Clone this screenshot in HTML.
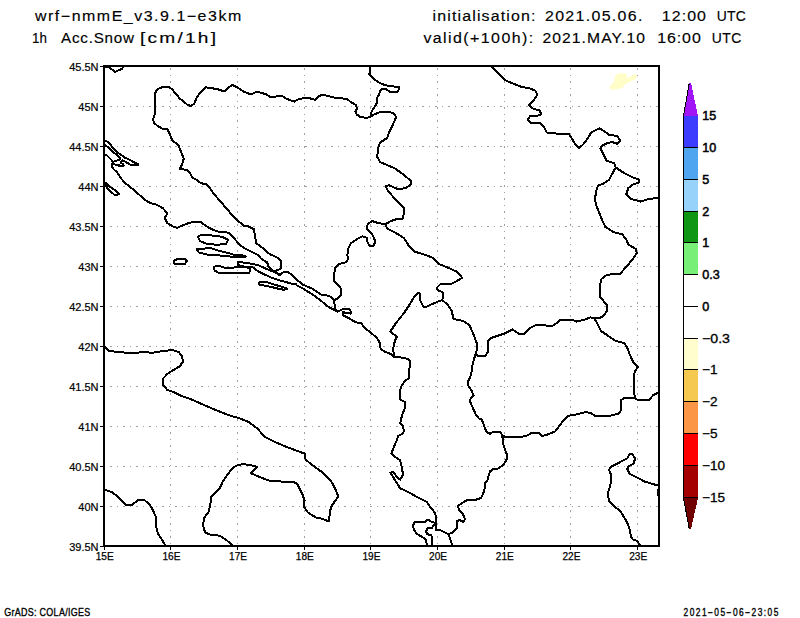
<!DOCTYPE html>
<html><head><meta charset="utf-8"><style>
html,body{margin:0;padding:0;background:#fff;width:800px;height:618px;overflow:hidden}
svg{display:block}
text{font-family:"Liberation Sans",sans-serif;fill:#000}
</style></head><body>
<svg width="800" height="618" viewBox="0 0 800 618">
<rect x="0" y="0" width="800" height="618" fill="#fff"/>

<polygon points="609.0,87.5 611.3,84.5 614.3,81.5 614.3,77.4 616.5,74.4 619.5,73.3 625.9,73.3 627.0,75.1 627.0,77.8 630.0,77.4 632.3,75.1 635.3,74.0 636.8,75.9 636.8,78.1 633.0,80.4 628.5,82.6 624.8,84.5 622.5,87.9 615.8,89.4 611.3,89.4" fill="#fffdc8"/>
<path d="M105,506.5H658 M105,466.5H658 M105,426.5H658 M105,386.5H658 M105,346.5H658 M105,306.5H658 M105,266.5H658 M105,226.5H658 M105,186.5H658 M105,146.5H658 M105,106.5H658" stroke="#a0a0a0" stroke-width="1" stroke-dasharray="1.6 4.9" stroke-dashoffset="-5.2" fill="none" shape-rendering="crispEdges"/>
<path d="M170.5,67V545 M237.5,67V545 M304.5,67V545 M370.5,67V545 M437.5,67V545 M504.5,67V545 M570.5,67V545 M637.5,67V545" stroke="#a0a0a0" stroke-width="1" stroke-dasharray="1.6 4.9" stroke-dashoffset="-1" fill="none" shape-rendering="crispEdges"/>
<polyline points="105.0,66.5 109.0,67.5 112.0,69.5 115.0,72.0 118.0,70.5 122.0,69.0 123.5,66.5" fill="none" stroke="#000" stroke-width="2" stroke-linejoin="round" stroke-linecap="round" shape-rendering="crispEdges"/>
<polyline points="370.6,116.9 367.2,117.7 361.0,117.3 357.0,114.7 355.3,111.8 357.0,108.4 355.9,105.0 350.2,101.6 346.8,98.8 340.0,98.2 333.0,97.4 326.7,95.7 321.4,94.7 318.3,96.8 315.1,99.9 309.9,98.3 305.7,97.8 299.4,98.9 294.1,101.6 286.8,98.9 282.6,96.2 269.9,96.8 265.7,94.1 261.5,93.0 256.9,91.5 253.1,93.6 248.9,93.6 243.7,91.7 237.2,87.3 232.4,84.9 229.1,87.3 225.9,90.5 222.7,91.0 219.4,89.7 213.0,88.4 205.7,87.3 201.6,91.3 196.8,97.0 194.4,103.5 191.1,105.9 187.9,105.1 183.8,101.8 179.8,98.6 176.6,94.6 171.7,88.9 169.3,87.3 162.0,87.3 157.9,88.9 155.0,92.9 154.7,101.0 154.7,114.0 153.1,119.6 153.9,122.9 157.9,126.1 162.0,128.5 167.7,129.4 170.1,135.0 172.5,140.7 178.2,144.7 181.4,152.8 183.8,158.5 182.2,164.1 179.8,169.0 187.1,169.8 189.5,172.2 192.7,177.9 196.0,179.5 200.9,183.2 206.2,184.2 209.3,187.4 214.6,194.7 221.9,203.1 228.2,210.5 234.5,217.8 240.0,222.5 243.5,225.5 248.4,226.5 254.2,229.4 254.2,231.8 255.2,236.7 256.2,243.4 260.0,245.9 263.9,248.8 266.8,252.2 271.7,255.1 276.5,257.0 280.4,260.0 281.4,263.8 281.5,267.8 279.3,269.3 277.0,270.4 274.0,270.8 271.8,270.0" fill="none" stroke="#000" stroke-width="2" stroke-linejoin="round" stroke-linecap="round" shape-rendering="crispEdges"/>
<polyline points="271.8,270.0 269.5,267.8 268.0,265.5 267.3,262.5 261.3,258.8 258.1,255.1 254.2,253.2 249.4,250.7 244.5,248.3 240.6,245.4 237.7,242.5 231.9,235.7 228.2,232.6 219.8,232.1 215.6,230.9 209.3,227.9 204.1,224.6 200.9,222.0 194.6,221.6 188.3,223.1 182.0,225.8 176.7,227.9 172.5,226.2 167.3,223.1 164.7,217.8 167.3,213.6 163.1,208.4 156.8,204.8 150.5,203.1 145.2,200.0 136.8,192.6 129.4,186.3 125.2,183.3 121.2,178.5 116.5,171.7 114.1,169.7 112.6,167.9 111.5,166.0 111.9,164.1 113.7,163.7 115.2,164.5 118.6,164.5 119.4,166.4 123.5,166.4 123.5,164.5 122.7,163.7 121.2,163.0 121.6,161.1 122.4,160.4 125.0,161.5 126.9,162.6 129.5,164.1 131.0,165.2 136.2,165.2 138.5,164.9 138.5,164.5 137.0,163.4 134.7,162.6 132.5,161.5 130.2,160.0 128.0,158.9 125.0,157.7 121.6,155.1 119.0,153.6 116.0,151.0 113.0,148.4 111.5,145.8 108.7,142.6 105.8,140.7 104.0,140.0" fill="none" stroke="#000" stroke-width="2" stroke-linejoin="round" stroke-linecap="round" shape-rendering="crispEdges"/>
<polyline points="104.5,144.5 107.0,146.5 110.4,149.3 113.3,152.2 116.0,154.3 119.5,157.3 120.4,158.5 119.7,159.6 117.5,160.4 113.7,161.5 113.0,162.0 111.5,160.0 110.8,159.4 108.7,157.2 106.9,155.4 104.5,154.7" fill="none" stroke="#000" stroke-width="2" stroke-linejoin="round" stroke-linecap="round" shape-rendering="crispEdges"/>
<polyline points="104.2,182.1 107.4,188.4 114.7,195.1 118.9,194.3 116.8,191.6 109.5,186.3 106.3,183.2" fill="none" stroke="#000" stroke-width="2" stroke-linejoin="round" stroke-linecap="round" shape-rendering="crispEdges"/>
<polyline points="197.8,236.8 200.9,235.1 209.3,235.1 221.9,236.8 228.2,239.9 226.1,244.1 217.7,244.7 207.2,244.1 199.9,241.0 197.8,236.8" fill="none" stroke="#000" stroke-width="2" stroke-linejoin="round" stroke-linecap="round" shape-rendering="crispEdges"/>
<polyline points="196.7,249.4 203.0,249.0 209.3,247.7 217.7,250.4 230.3,253.6 235.0,255.2 245.5,255.6 245.5,257.0 235.0,257.5 230.3,256.5 217.7,255.3 207.2,254.6 198.8,252.5 196.7,249.4" fill="none" stroke="#000" stroke-width="2" stroke-linejoin="round" stroke-linecap="round" shape-rendering="crispEdges"/>
<polyline points="173.6,260.9 177.8,258.8 185.1,258.8 187.2,260.9 185.1,263.7 177.8,264.5 174.6,263.7 173.6,260.9" fill="none" stroke="#000" stroke-width="2" stroke-linejoin="round" stroke-linecap="round" shape-rendering="crispEdges"/>
<polyline points="213.5,266.6 219.8,266.2 226.1,268.3 235.0,267.4 244.8,267.0 248.5,267.8 250.0,266.8 249.6,271.5 249.3,272.6 235.0,272.6 226.1,273.5 217.7,272.5 214.6,270.4 213.5,266.6" fill="none" stroke="#000" stroke-width="2" stroke-linejoin="round" stroke-linecap="round" shape-rendering="crispEdges"/>
<polyline points="238.0,261.8 239.5,262.1 247.0,262.9 253.8,264.4 257.5,264.8 261.3,266.6 266.5,268.9 271.0,270.8 274.8,272.3 278.5,274.5 280.0,274.9" fill="none" stroke="#000" stroke-width="2" stroke-linejoin="round" stroke-linecap="round" shape-rendering="crispEdges"/>
<polyline points="238.0,262.5 237.6,264.8 239.5,265.5 244.0,266.6 250.0,266.6 252.3,267.0 256.0,270.0 261.3,273.0 266.5,275.3 271.0,277.5 275.5,279.0 280.0,280.5 286.0,282.0 290.5,283.5 295.9,283.9 297.0,285.6 303.8,289.0 312.9,294.7 321.9,301.5 328.7,307.1 335.5,310.5 337.8,311.7 340.5,310.3 343.5,308.6 349.2,308.6 351.0,312.0 350.6,313.6 346.5,312.8 342.5,312.2 343.5,315.5 349.4,318.5 355.2,322.0 361.1,323.4 365.9,328.8 370.8,332.7 376.6,337.6 379.5,342.4 380.5,348.3 384.4,351.7 390.2,353.7 394.1,357.0 397.0,357.0 401.8,357.6 407.7,358.9 409.6,360.9 409.6,367.7 408.6,373.5 408.6,378.3 404.8,381.3 401.8,385.1 399.9,391.0 400.1,399.5 403.0,401.0 405.0,401.9 405.0,407.8 402.0,415.5 400.1,423.3 403.0,426.2 404.0,431.1 402.0,434.0 398.2,435.9 396.2,441.7 393.3,448.5 391.4,453.4 394.3,456.3 400.1,460.2 402.0,468.0 403.0,474.8 400.1,479.6 397.2,477.7 393.3,471.8 390.4,472.8 392.3,475.7 397.2,483.5 400.1,488.3 404.0,490.0 410.0,493.0 418.0,497.5 427.0,502.0 430.0,507.0 434.0,511.5 435.5,515.0 435.5,523.0 436.0,530.0 440.0,530.0 444.0,532.0 448.0,534.0 450.0,538.0 452.0,545.0" fill="none" stroke="#000" stroke-width="2" stroke-linejoin="round" stroke-linecap="round" shape-rendering="crispEdges"/>
<polyline points="259.0,283.5 260.5,281.6 265.0,281.6 271.0,283.5 277.0,285.4 283.8,287.3 287.5,289.0 284.0,289.8 277.0,288.4 271.0,286.9 265.0,285.8 259.8,284.6 259.0,283.5" fill="none" stroke="#000" stroke-width="2" stroke-linejoin="round" stroke-linecap="round" shape-rendering="crispEdges"/>
<polyline points="274.0,270.8 277.0,273.0 280.0,274.9 282.3,273.0 284.5,271.5 287.5,271.5 290.5,273.8 295.0,278.3 302.7,284.5 312.9,289.0 321.9,295.2 328.7,295.6 332.1,298.1 333.8,300.3 334.4,303.7 335.5,309.4 337.8,311.7" fill="none" stroke="#000" stroke-width="2" stroke-linejoin="round" stroke-linecap="round" shape-rendering="crispEdges"/>
<polyline points="370.0,66.0 370.0,72.8 368.9,74.5 371.7,76.7 376.2,80.7 379.6,83.0 385.3,85.2 391.0,86.3 398.9,86.9 398.9,89.2 397.8,91.7 389.8,92.0 386.4,89.2 381.9,88.6 380.2,90.9 378.5,95.4 376.8,98.2 377.4,102.2 375.1,106.2 372.8,109.6 370.6,113.5 370.6,116.9" fill="none" stroke="#000" stroke-width="2" stroke-linejoin="round" stroke-linecap="round" shape-rendering="crispEdges"/>
<polyline points="370.6,116.9 372.8,115.2 377.4,113.0 381.9,111.6 387.6,111.8 393.2,113.0 395.5,115.8 395.5,118.6 393.2,123.7 391.0,128.8 389.3,132.0 387.3,137.8 381.0,142.0 378.9,145.1 377.9,150.4 377.2,156.7 380.0,162.0 387.3,165.1 394.7,168.3 402.0,173.5 411.0,180.9 410.9,184.2 405.7,188.4 397.3,188.8 388.9,185.3 385.7,186.3 387.8,190.5 393.1,196.8 399.4,203.1 403.6,207.3 404.0,213.6 402.5,218.9 397.3,218.9 391.0,221.0 385.7,224.1" fill="none" stroke="#000" stroke-width="2" stroke-linejoin="round" stroke-linecap="round" shape-rendering="crispEdges"/>
<polyline points="385.7,224.1 378.3,223.1 372.0,221.0 367.8,224.1 366.8,228.4 371.0,232.6 374.1,237.8 375.2,242.0 373.1,246.2 369.9,246.2 367.4,242.0 366.8,237.8 362.6,236.3 357.3,238.9 351.0,243.1 347.9,249.4 347.4,255.0 348.0,259.5 345.7,262.4 338.9,264.1 335.5,267.5 333.8,275.4 334.4,281.1 337.8,285.0 341.5,289.0 341.4,295.0 337.0,298.7 333.8,300.3" fill="none" stroke="#000" stroke-width="2" stroke-linejoin="round" stroke-linecap="round" shape-rendering="crispEdges"/>
<polyline points="385.7,224.1 386.8,228.4 395.2,232.6 403.6,237.8 409.9,247.3 414.1,251.5 424.6,254.6 433.0,257.8 439.3,264.1 447.0,267.2 454.0,270.4 456.8,271.4 460.3,275.0 462.1,277.8 456.8,281.0 451.0,284.1 441.0,283.6 436.5,288.0 438.5,290.5 443.0,292.5 443.3,297.0 442.0,300.0" fill="none" stroke="#000" stroke-width="2" stroke-linejoin="round" stroke-linecap="round" shape-rendering="crispEdges"/>
<polyline points="394.1,357.0 393.1,348.3 395.0,340.5 397.0,336.6 390.2,331.7 396.0,323.0 403.8,313.3 409.6,304.6 413.5,297.8 418.3,292.9 420.3,293.9 420.3,300.7 423.2,306.5 425.1,307.5 431.0,304.6 438.7,301.3 442.0,300.0" fill="none" stroke="#000" stroke-width="2" stroke-linejoin="round" stroke-linecap="round" shape-rendering="crispEdges"/>
<polyline points="442.0,300.0 447.3,304.2 451.5,310.5 453.6,318.9 463.1,321.0 469.4,325.2 473.6,334.7 476.8,343.1 477.2,348.3 475.7,353.6 472.6,364.1 471.2,374.6 468.3,381.0 468.5,386.0 471.7,390.7 473.6,395.5 470.7,398.4 470.0,401.4 472.0,406.0 475.8,414.6 479.0,418.6 481.7,419.4 484.6,427.2 486.5,432.0 490.0,433.8 494.0,431.5 499.8,431.5 501.7,434.4" fill="none" stroke="#000" stroke-width="2" stroke-linejoin="round" stroke-linecap="round" shape-rendering="crispEdges"/>
<polyline points="476.0,354.0 477.8,356.1 485.2,355.7 488.3,351.5 488.3,341.0 491.5,337.8 504.1,333.6 512.5,329.4 518.8,333.6 524.1,333.6 529.3,328.3 535.6,325.2 543.2,325.1 547.4,325.8 551.6,326.4 555.8,323.7 560.0,320.1 562.1,319.5 572.6,320.1 576.8,321.6 581.0,320.5 585.2,319.5 590.5,317.3 594.0,318.5" fill="none" stroke="#000" stroke-width="2" stroke-linejoin="round" stroke-linecap="round" shape-rendering="crispEdges"/>
<polyline points="615.8,167.5 612.6,173.1 609.4,179.5 603.1,183.7 597.9,185.8 595.8,192.1 595.1,200.5 596.8,206.8 601.0,217.3 605.2,226.8 613.7,232.1 622.1,234.2 626.3,239.4 628.4,244.7 635.7,248.9 636.8,253.1 632.6,259.4 626.3,266.8 620.0,274.0 611.5,274.0 605.2,275.8 601.0,279.5 600.0,286.8 600.0,297.4 603.1,300.5 607.3,305.8 607.3,310.0 604.2,315.2 600.0,318.0 594.0,318.5" fill="none" stroke="#000" stroke-width="2" stroke-linejoin="round" stroke-linecap="round" shape-rendering="crispEdges"/>
<polyline points="594.0,318.5 595.8,320.5 601.0,331.0 607.3,335.2 614.7,340.5 624.2,343.2 627.3,347.9 630.5,356.3 633.6,362.6 637.9,366.8 634.7,372.1 633.6,377.3 633.6,387.8 634.7,396.3 635.0,398.0" fill="none" stroke="#000" stroke-width="2" stroke-linejoin="round" stroke-linecap="round" shape-rendering="crispEdges"/>
<polyline points="501.7,434.4 504.7,436.7 522.1,436.7 528.0,435.3 531.8,432.8 538.6,432.8 541.6,435.9 545.4,435.3 555.1,431.5 560.0,425.0 563.9,419.7 567.8,415.9 575.5,414.6 585.9,412.0 591.0,413.3 594.9,415.9 609.1,415.9 618.2,413.8 620.8,410.7 620.8,400.3 624.7,397.8 633.7,397.8 637.6,399.8 649.2,399.8 653.1,395.2 658.5,392.4" fill="none" stroke="#000" stroke-width="2" stroke-linejoin="round" stroke-linecap="round" shape-rendering="crispEdges"/>
<polyline points="501.7,434.4 502.7,438.3 503.7,446.0 506.6,453.8 506.6,459.6 503.7,464.5 498.8,468.3 493.0,469.3 490.1,471.3 488.2,477.1 487.2,481.0 485.2,482.9 484.3,490.7 481.4,497.5 477.5,499.4 472.0,500.0 468.0,499.5 462.0,503.0 458.0,506.0 459.0,510.0 463.0,514.0 465.0,519.5 463.0,522.0 460.0,520.0 457.0,521.0 457.0,528.0 452.0,533.0 448.0,534.0" fill="none" stroke="#000" stroke-width="2" stroke-linejoin="round" stroke-linecap="round" shape-rendering="crispEdges"/>
<polyline points="435.5,523.0 432.0,522.0 428.0,519.5 424.0,522.5 420.0,522.0 415.0,522.0 413.0,525.0 414.0,530.0 417.0,534.0 423.0,537.5 426.0,540.0 427.0,545.0" fill="none" stroke="#000" stroke-width="2" stroke-linejoin="round" stroke-linecap="round" shape-rendering="crispEdges"/>
<polyline points="434.5,524.0 432.0,528.0 428.0,528.0 426.0,531.0 427.0,534.0 431.5,535.5 432.0,545.0" fill="none" stroke="#000" stroke-width="2" stroke-linejoin="round" stroke-linecap="round" shape-rendering="crispEdges"/>
<polyline points="658.5,485.7 645.3,481.8 637.6,477.9 629.8,474.0 627.2,468.9 628.5,466.3 633.7,463.7 635.0,458.5 632.4,454.1 629.3,454.1 627.2,458.5 619.5,462.4 610.4,467.1 609.1,470.2 611.2,475.3 610.4,485.7 607.8,493.4 609.1,501.2 614.3,506.4 620.8,511.5 625.0,519.0 627.0,522.0 628.0,525.0 630.0,530.0 631.0,537.0 633.0,539.5 637.0,541.0 640.0,545.0" fill="none" stroke="#000" stroke-width="2" stroke-linejoin="round" stroke-linecap="round" shape-rendering="crispEdges"/>
<polyline points="658.5,489.5 657.5,492.0 658.5,496.0" fill="none" stroke="#000" stroke-width="2" stroke-linejoin="round" stroke-linecap="round" shape-rendering="crispEdges"/>
<polyline points="491.1,66.3 496.3,71.6 504.7,80.0 513.1,83.5 521.5,86.9 529.9,88.4 535.2,90.5 537.3,94.7 533.1,101.0 528.9,105.2 532.0,108.3 539.4,110.5 541.5,114.2 537.3,115.7 529.9,116.3 527.8,119.9 531.0,123.1 540.5,123.5 543.6,126.2 546.8,132.5 557.3,133.6 568.8,134.0 572.0,138.8 575.1,144.1 579.3,147.9 583.5,144.1 588.8,136.7 590.9,132.5 599.3,128.3 604.6,131.5 609.8,135.3 617.2,135.7 620.3,140.9 617.2,143.7 611.9,142.0 607.7,143.0 601.4,146.2 600.4,148.3 603.5,154.6 606.7,160.9 614.0,163.0 615.8,167.5 624.2,173.1 632.6,177.4 638.9,179.5 638.9,182.6 632.6,184.7 628.4,187.9 626.3,194.2 630.5,198.8 641.0,201.6 649.4,198.8 658.5,198.0" fill="none" stroke="#000" stroke-width="2" stroke-linejoin="round" stroke-linecap="round" shape-rendering="crispEdges"/>
<polyline points="104.2,345.8 108.4,350.6 112.6,351.4 121.0,352.1 131.5,353.5 142.0,352.1 152.6,352.7 163.1,351.0 172.5,350.0 178.8,352.1 182.0,356.3 183.0,361.5 179.9,366.2 173.6,369.9 167.3,374.1 163.1,378.4 163.1,384.7 167.3,389.9 173.6,392.0 182.0,396.2 190.4,399.0 200.9,403.6 211.4,408.2 219.8,411.6 228.2,415.1 238.4,417.9 248.9,422.1 257.3,428.4 264.7,436.8 274.1,441.6 284.7,446.2 293.1,449.4 304.6,453.6 305.7,459.9 314.1,466.2 322.5,472.5 330.9,480.9 335.1,488.3 338.3,496.7 335.1,500.9 330.9,507.2 329.9,513.5 328.8,521.5 322.5,518.8 316.2,517.7 307.8,512.5 303.6,506.2 304.6,500.9 302.5,494.6 297.3,484.1 293.1,481.6 282.6,481.6 269.9,480.9 261.5,477.8 251.0,473.2 253.1,470.4 257.3,466.8 251.0,465.2 242.6,464.1 237.0,465.5 233.5,467.3 228.2,473.6 223.0,481.0 219.8,488.3 215.6,492.5 211.4,496.7 210.4,504.1 208.3,512.5 204.1,517.8 203.0,525.1 205.1,532.5 211.4,535.2 219.8,535.6 226.1,539.8 232.4,545.1" fill="none" stroke="#000" stroke-width="2" stroke-linejoin="round" stroke-linecap="round" shape-rendering="crispEdges"/>
<polyline points="104.2,489.4 112.6,492.5 118.9,497.8 126.3,505.1 131.5,505.1 138.9,499.5 144.1,499.9 149.4,504.1 153.6,511.4 155.7,516.7 156.3,527.2 157.8,533.5 162.0,539.8 165.2,545.1" fill="none" stroke="#000" stroke-width="2" stroke-linejoin="round" stroke-linecap="round" shape-rendering="crispEdges"/>
<rect x="104" y="66" width="555" height="480" fill="none" stroke="#000" stroke-width="2"/>
<path d="M100,546.5H104 M100,506.5H104 M100,466.5H104 M100,426.5H104 M100,386.5H104 M100,346.5H104 M100,306.5H104 M100,266.5H104 M100,226.5H104 M100,186.5H104 M100,146.5H104 M100,106.5H104 M100,66.5H104 M104.5,546V550 M170.5,546V550 M237.5,546V550 M304.5,546V550 M370.5,546V550 M437.5,546V550 M504.5,546V550 M570.5,546V550 M637.5,546V550" stroke="#000" stroke-width="1" fill="none"/>
<text x="98.5" y="551.2" font-size="11" text-anchor="end" stroke="#000" stroke-width="0.2">39.5N</text>
<text x="98.5" y="511.2" font-size="11" text-anchor="end" stroke="#000" stroke-width="0.2">40N</text>
<text x="98.5" y="471.2" font-size="11" text-anchor="end" stroke="#000" stroke-width="0.2">40.5N</text>
<text x="98.5" y="431.2" font-size="11" text-anchor="end" stroke="#000" stroke-width="0.2">41N</text>
<text x="98.5" y="391.2" font-size="11" text-anchor="end" stroke="#000" stroke-width="0.2">41.5N</text>
<text x="98.5" y="351.2" font-size="11" text-anchor="end" stroke="#000" stroke-width="0.2">42N</text>
<text x="98.5" y="311.2" font-size="11" text-anchor="end" stroke="#000" stroke-width="0.2">42.5N</text>
<text x="98.5" y="271.2" font-size="11" text-anchor="end" stroke="#000" stroke-width="0.2">43N</text>
<text x="98.5" y="231.2" font-size="11" text-anchor="end" stroke="#000" stroke-width="0.2">43.5N</text>
<text x="98.5" y="191.2" font-size="11" text-anchor="end" stroke="#000" stroke-width="0.2">44N</text>
<text x="98.5" y="151.2" font-size="11" text-anchor="end" stroke="#000" stroke-width="0.2">44.5N</text>
<text x="98.5" y="111.2" font-size="11" text-anchor="end" stroke="#000" stroke-width="0.2">45N</text>
<text x="98.5" y="71.2" font-size="11" text-anchor="end" stroke="#000" stroke-width="0.2">45.5N</text>
<text x="95.7" y="559.8" font-size="11" textLength="18" lengthAdjust="spacingAndGlyphs" stroke="#000" stroke-width="0.25">15E</text>
<text x="162.4" y="559.8" font-size="11" textLength="18" lengthAdjust="spacingAndGlyphs" stroke="#000" stroke-width="0.25">16E</text>
<text x="229.1" y="559.8" font-size="11" textLength="18" lengthAdjust="spacingAndGlyphs" stroke="#000" stroke-width="0.25">17E</text>
<text x="295.8" y="559.8" font-size="11" textLength="18" lengthAdjust="spacingAndGlyphs" stroke="#000" stroke-width="0.25">18E</text>
<text x="362.5" y="559.8" font-size="11" textLength="18" lengthAdjust="spacingAndGlyphs" stroke="#000" stroke-width="0.25">19E</text>
<text x="429.1" y="559.8" font-size="11" textLength="18" lengthAdjust="spacingAndGlyphs" stroke="#000" stroke-width="0.25">20E</text>
<text x="495.8" y="559.8" font-size="11" textLength="18" lengthAdjust="spacingAndGlyphs" stroke="#000" stroke-width="0.25">21E</text>
<text x="562.5" y="559.8" font-size="11" textLength="18" lengthAdjust="spacingAndGlyphs" stroke="#000" stroke-width="0.25">22E</text>
<text x="629.2" y="559.8" font-size="11" textLength="18" lengthAdjust="spacingAndGlyphs" stroke="#000" stroke-width="0.25">23E</text>
<g transform="translate(35.00,0) scale(1.1,1)"><text x="0" y="20.8" font-size="14.5" stroke="#000" stroke-width="0.15" lengthAdjust="spacing" textLength="187.45">wrf−nmmE_v3.9.1−e3km</text></g>
<g transform="translate(32.00,0) scale(0.92,1)"><text x="0" y="42.6" font-size="14.5" stroke="#000" stroke-width="0.15" lengthAdjust="spacing" textLength="16.30">1h</text></g>
<g transform="translate(61.00,0) scale(1.05,1)"><text x="0" y="42.6" font-size="14.5" stroke="#000" stroke-width="0.15" lengthAdjust="spacing" textLength="69.52">Acc.Snow</text></g>
<g transform="translate(140.00,0) scale(1.32,1)"><text x="0" y="42.6" font-size="14.5" stroke="#000" stroke-width="0.15" lengthAdjust="spacing" textLength="57.58">[cm/1h]</text></g>
<g transform="translate(432.60,0) scale(1.1,1)"><text x="0" y="20.8" font-size="14.5" stroke="#000" stroke-width="0.15" lengthAdjust="spacing" textLength="93.45">initialisation:</text></g>
<g transform="translate(545.00,0) scale(1.1,1)"><text x="0" y="20.8" font-size="14.5" stroke="#000" stroke-width="0.15" lengthAdjust="spacing" textLength="88.55">2021.05.06.</text></g>
<g transform="translate(661.80,0) scale(1.1,1)"><text x="0" y="20.8" font-size="14.5" stroke="#000" stroke-width="0.15" lengthAdjust="spacing" textLength="40.18">12:00</text></g>
<g transform="translate(716.80,0) scale(0.96,1)"><text x="0" y="20.8" font-size="14.5" stroke="#000" stroke-width="0.15" lengthAdjust="spacing" textLength="30.21">UTC</text></g>
<g transform="translate(423.40,0) scale(1.1,1)"><text x="0" y="42.6" font-size="14.5" stroke="#000" stroke-width="0.15" lengthAdjust="spacing" textLength="99.82">valid(+100h):</text></g>
<g transform="translate(542.40,0) scale(1.08,1)"><text x="0" y="42.6" font-size="14.5" stroke="#000" stroke-width="0.15" lengthAdjust="spacing" textLength="95.00">2021.MAY.10</text></g>
<g transform="translate(657.20,0) scale(1.1,1)"><text x="0" y="42.6" font-size="14.5" stroke="#000" stroke-width="0.15" lengthAdjust="spacing" textLength="39.64">16:00</text></g>
<g transform="translate(711.80,0) scale(0.96,1)"><text x="0" y="42.6" font-size="14.5" stroke="#000" stroke-width="0.15" lengthAdjust="spacing" textLength="30.62">UTC</text></g>
<g transform="scale(0.82,1)"><text x="5.1" y="615.6" font-size="10.9" stroke="#000" stroke-width="0.35" textLength="104.9" lengthAdjust="spacing">GrADS: COLA/IGES</text></g>
<g transform="scale(0.82,1)"><text x="833.6" y="616.1" font-size="10.2" stroke="#000" stroke-width="0.35" textLength="115.6" lengthAdjust="spacing">2021−05−06−23:05</text></g>
<polygon points="684,116 689,83 691,83 698,116" fill="#a014f5" shape-rendering="crispEdges"/>
<line x1="683.5" y1="116" x2="689.2" y2="83.5" stroke="#000" stroke-width="1" shape-rendering="crispEdges"/>
<rect x="684" y="116" width="14" height="31" fill="#3c3cff"/>
<rect x="684" y="147" width="14" height="32" fill="#50a5f0"/>
<rect x="684" y="179" width="14" height="32" fill="#96d2fa"/>
<rect x="684" y="211" width="14" height="31" fill="#0f9614"/>
<rect x="684" y="242" width="14" height="32" fill="#78f078"/>
<rect x="684" y="274" width="14" height="32" fill="#ffffff"/>
<rect x="684" y="306" width="14" height="32" fill="#ffffff"/>
<rect x="684" y="338" width="14" height="31" fill="#fffdcd"/>
<rect x="684" y="369" width="14" height="32" fill="#f5c850"/>
<rect x="684" y="401" width="14" height="32" fill="#fa9646"/>
<rect x="684" y="433" width="14" height="32" fill="#ff0000"/>
<rect x="684" y="465" width="14" height="32" fill="#a50000"/>
<polygon points="684,498 689,529 691,529 698,498" fill="#700000" shape-rendering="crispEdges"/>
<rect x="683" y="113" width="1" height="385" fill="#000"/>
<line x1="683.5" y1="498" x2="689.2" y2="528.5" stroke="#000" stroke-width="1" shape-rendering="crispEdges"/>
<text x="702.3" y="120.0" font-size="12.6" stroke="#000" stroke-width="0.5">15</text>
<rect x="683" y="147" width="15" height="1" fill="#000"/>
<text x="702.3" y="152.0" font-size="12.6" stroke="#000" stroke-width="0.5">10</text>
<rect x="683" y="179" width="15" height="1" fill="#000"/>
<text x="702.3" y="184.0" font-size="12.6" stroke="#000" stroke-width="0.5">5</text>
<rect x="683" y="211" width="15" height="1" fill="#000"/>
<text x="702.3" y="216.0" font-size="12.6" stroke="#000" stroke-width="0.5">2</text>
<rect x="683" y="242" width="15" height="1" fill="#000"/>
<text x="702.3" y="247.0" font-size="12.6" stroke="#000" stroke-width="0.5">1</text>
<rect x="683" y="274" width="15" height="1" fill="#000"/>
<text x="702.3" y="279.0" font-size="12.6" stroke="#000" stroke-width="0.5">0.3</text>
<rect x="683" y="306" width="15" height="1" fill="#000"/>
<text x="702.3" y="311.0" font-size="12.6" stroke="#000" stroke-width="0.5">0</text>
<rect x="683" y="338" width="15" height="1" fill="#000"/>
<text x="702" y="342.9" font-size="12.5" stroke="#000" stroke-width="0.3" textLength="28" lengthAdjust="spacingAndGlyphs">−0.3</text>
<rect x="683" y="369" width="15" height="1" fill="#000"/>
<text x="702" y="373.9" font-size="12.5" stroke="#000" stroke-width="0.3" textLength="15.5" lengthAdjust="spacingAndGlyphs">−1</text>
<rect x="683" y="401" width="15" height="1" fill="#000"/>
<text x="702" y="405.9" font-size="12.5" stroke="#000" stroke-width="0.3" textLength="15.5" lengthAdjust="spacingAndGlyphs">−2</text>
<rect x="683" y="433" width="15" height="1" fill="#000"/>
<text x="702" y="437.9" font-size="12.5" stroke="#000" stroke-width="0.3" textLength="15.5" lengthAdjust="spacingAndGlyphs">−5</text>
<rect x="683" y="465" width="15" height="1" fill="#000"/>
<text x="702" y="469.9" font-size="12.5" stroke="#000" stroke-width="0.3" textLength="23" lengthAdjust="spacingAndGlyphs">−10</text>
<rect x="683" y="497" width="15" height="1" fill="#000"/>
<text x="702" y="501.9" font-size="12.5" stroke="#000" stroke-width="0.3" textLength="23" lengthAdjust="spacingAndGlyphs">−15</text>
</svg></body></html>
